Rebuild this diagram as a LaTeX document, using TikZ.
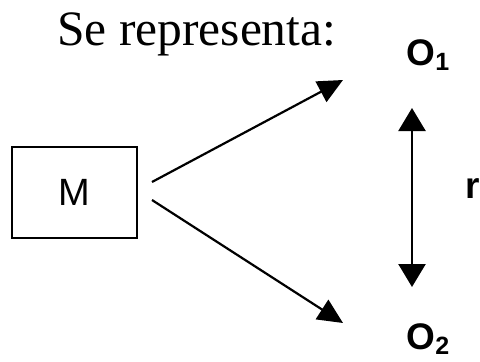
\documentclass[tikz,border=0pt]{standalone}
\usepackage{fontspec}
\setmainfont{Liberation Serif}
\setsansfont{Liberation Sans}
\usetikzlibrary{arrows.meta}
\tikzset{
  conn/.style={line width=2.2pt, -{Triangle[length=25pt,width=23pt]}},
  dconn/.style={line width=2.4pt, {Triangle[length=23pt,width=27pt]}-{Triangle[length=23pt,width=27pt]}},
  lbl/.style={inner sep=0pt, font=\sffamily\bfseries\fontsize{37}{37}\selectfont},
}
\newcommand{\subsc}[1]{\raisebox{-0.15em}{\fontsize{25}{25}\selectfont #1}}
\begin{document}
\begin{tikzpicture}[x=1pt,y=-1pt]
\useasboundingbox (0,0) rectangle (480,362);
\node[anchor=base west, inner sep=0pt, font=\fontsize{49.5}{49.5}\selectfont] (title) at (57,45) {Se representa:};
\node[draw, line width=1.3pt, minimum width=125pt, minimum height=91pt, inner sep=0pt,
      font=\sffamily\fontsize{38}{38}\selectfont] (M) at (74.5,192.5) {M};
\node[lbl] (O1) at (428,55) {O\subsc{1}};
\node[lbl, anchor=south] (O2) at (428,355) {O\subsc{2}};
\node[lbl, anchor=west] (r) at (465,189) {r};
\coordinate (s1) at (152,182);
\coordinate (t1) at (343,80);
\coordinate (s2) at (152,200);
\coordinate (t2) at (343,323);
\coordinate (v1) at (412,108);
\coordinate (v2) at (412,287);
\draw[conn] (s1) -- (t1);
\draw[conn] (s2) -- (t2);
\draw[dconn] (v1) -- (v2);
\end{tikzpicture}
\end{document}
